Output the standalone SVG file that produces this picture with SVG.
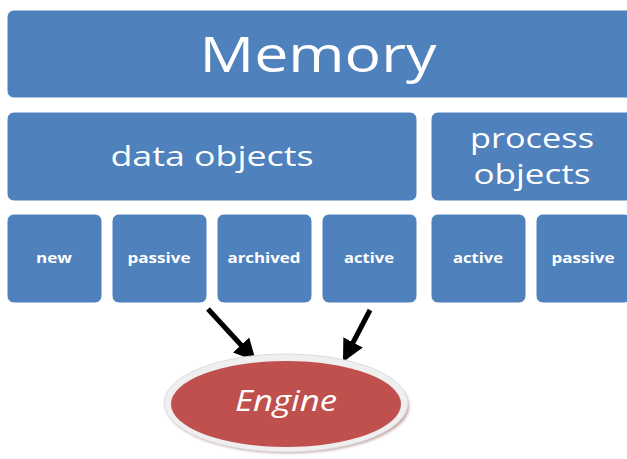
<svg xmlns="http://www.w3.org/2000/svg" width="627" height="459" viewBox="0 0 627 459">
<style>
.box{fill:#4F81BD;stroke:#ffffff;stroke-width:1}
.t{fill:#ffffff;font-family:"Open Sans","Noto Sans",sans-serif;text-anchor:middle}
.s{font-size:13.5px;font-weight:bold}
.arrow{stroke:#000;stroke-width:5;fill:none}
</style>
<defs>
<marker id="ah" viewBox="0 0 10 10" refX="8" refY="5" markerWidth="4.4" markerHeight="4.4" orient="auto" markerUnits="strokeWidth">
<path d="M0,0 L10,5 L0,10 z" fill="#000"/>
</marker>
<filter id="sh" x="-10%" y="-10%" width="120%" height="130%">
<feGaussianBlur stdDeviation="1.5"/>
</filter>
</defs>
<rect width="627" height="459" fill="#fff"/>
<g id="memory"><rect class="box" x="7" y="10" width="627" height="88" rx="7"/><text class="t" x="318" y="72" font-size="50" textLength="237" lengthAdjust="spacingAndGlyphs">Memory</text></g>
<g id="data-objects"><rect class="box" x="7" y="112" width="410" height="89" rx="7"/><text class="t" x="212" y="166" font-size="28" textLength="203" lengthAdjust="spacingAndGlyphs">data objects</text></g>
<g id="process-objects"><rect class="box" x="431" y="112" width="210" height="89" rx="7"/><text class="t" x="532" y="148" font-size="28" textLength="124" lengthAdjust="spacingAndGlyphs">process</text><text class="t" x="532" y="184" font-size="28" textLength="117" lengthAdjust="spacingAndGlyphs">objects</text></g>
<g id="new"><rect class="box" x="7" y="214" width="95" height="89" rx="7"/><text class="t s" x="54" y="263" textLength="36" lengthAdjust="spacingAndGlyphs">new</text></g>
<g id="passive-data"><rect class="box" x="112" y="214" width="95" height="89" rx="7"/><text class="t s" x="159" y="263" textLength="63" lengthAdjust="spacingAndGlyphs">passive</text></g>
<g id="archived"><rect class="box" x="217" y="214" width="95" height="89" rx="7"/><text class="t s" x="264" y="263" textLength="73" lengthAdjust="spacingAndGlyphs">archived</text></g>
<g id="active-data"><rect class="box" x="322" y="214" width="95" height="89" rx="7"/><text class="t s" x="369" y="263" textLength="50" lengthAdjust="spacingAndGlyphs">active</text></g>
<g id="active-process"><rect class="box" x="431" y="214" width="95" height="89" rx="7"/><text class="t s" x="478" y="263" textLength="50" lengthAdjust="spacingAndGlyphs">active</text></g>
<g id="passive-process"><rect class="box" x="536" y="214" width="95" height="89" rx="7"/><text class="t s" x="583" y="263" textLength="63" lengthAdjust="spacingAndGlyphs">passive</text></g>
<g id="connectors">
<line class="arrow" x1="208" y1="309" x2="253" y2="358" marker-end="url(#ah)"/>
<line class="arrow" x1="370" y1="310" x2="345" y2="358" marker-end="url(#ah)"/>
</g>
<g id="engine">
<ellipse cx="288" cy="406" rx="121" ry="47" fill="#8f5a5a" opacity="0.6" filter="url(#sh)"/>
<ellipse cx="286" cy="403" rx="122" ry="49" fill="#efefef" stroke="#dcdcdc" stroke-width="1"/>
<ellipse cx="286" cy="404" rx="115" ry="43" fill="#C0504D"/>
<text class="t" x="286" y="411" font-size="30" font-style="italic" textLength="102" lengthAdjust="spacingAndGlyphs">Engine</text>
</g>
</svg>
